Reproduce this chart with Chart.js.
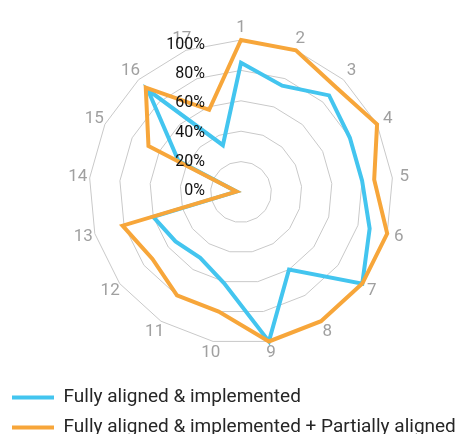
<!DOCTYPE html>
<html lang="en">
<head>
  <meta charset="UTF-8" />
  <title>Alignment radar</title>
  <script src="https://cdn.jsdelivr.net/npm/chart.js"></script>
  <style>
    html, body { margin: 0; padding: 0; background: #ffffff; overflow: hidden; }
    .chart-box { position: relative; width: 456px; height: 447px; }
  </style>
</head>
<body>
  <div class="chart-box">
    <canvas id="radarChart"></canvas>
  </div>

  <script>
    // data
    const categories = ['1', '2', '3', '4', '5', '6', '7', '8', '9', '10', '11', '12', '13', '14', '15', '16', '17'];
    const fullyAligned = [85, 75, 86, 80, 80, 88, 100, 60, 100, 61, 51, 54, 60, 3, 46, 91, 33];
    const fullyPlusPartial = [100, 100, 93, 100, 88, 100, 100, 100, 100, 80, 80, 73, 81, 3, 68, 93, 58];
    const tickValues = [0, 20, 40, 60, 80, 100];
    const tickLabels = ['0%', '20%', '40%', '60%', '80%', '100%'];

    const BLUE = '#43c5ef';
    const ORANGE = '#f7a63a';
    const FONT = 'Roboto';

    // percent labels left of the centre, drawn over the lines
    // category labels centred a bit outside the outer ring
    const labelPlugin = {
      id: 'radarLabels',
      afterLayout(chart) {
        // keep the legend flush left, the layout padding is only for the radar
        if (chart.legend) {
          chart.legend.left = 1;
          chart.legend.right = chart.width;
        }
      },
      afterDatasetsDraw(chart) {
        const scale = chart.scales.r;
        const ctx = chart.ctx;
        const outer = scale.getDistanceFromCenterForValue(100);
        ctx.save();
        ctx.textBaseline = 'middle';

        ctx.font = '17px ' + FONT;
        ctx.fillStyle = '#a0a0a0';
        ctx.textAlign = 'center';
        chart.data.labels.forEach((lbl, i) => {
          const p = scale.getPointPosition(i, outer + 12);
          ctx.fillText(lbl, p.x, p.y);
        });

        ctx.font = '16px ' + FONT;
        ctx.fillStyle = '#111111';
        ctx.textAlign = 'right';
        tickValues.forEach((v, i) => {
          const y = scale.yCenter - scale.getDistanceFromCenterForValue(v) * 0.96 - 1;
          ctx.fillText(tickLabels[i], scale.xCenter - 36, y);
        });
        ctx.restore();
      }
    };

    new Chart(document.getElementById('radarChart'), {
      type: 'radar',
      data: {
        labels: categories,
        datasets: [
          {
            label: 'Fully aligned & implemented',
            data: fullyAligned,
            borderColor: BLUE,
            backgroundColor: BLUE,
            borderWidth: 4,
            fill: false,
            pointRadius: 0,
            borderJoinStyle: 'miter',
            borderCapStyle: 'round',
            order: 1
          },
          {
            label: 'Fully aligned & implemented + Partially aligned',
            data: fullyPlusPartial,
            borderColor: ORANGE,
            backgroundColor: ORANGE,
            borderWidth: 4,
            fill: false,
            pointRadius: 0,
            borderJoinStyle: 'miter',
            borderCapStyle: 'round',
            order: 0
          }
        ]
      },
      options: {
        responsive: true,
        maintainAspectRatio: false,
        animation: false,
        layout: { padding: { left: 89.5, right: 62.5, top: 8.5, bottom: 0 } },
        scales: {
          r: {
            min: 0,
            max: 100,
            ticks: { stepSize: 20, display: false },
            angleLines: { display: false },
            grid: { color: '#c9c9c9', lineWidth: 1 },
            pointLabels: { display: false }
          }
        },
        plugins: {
          tooltip: { enabled: false },
          legend: {
            position: 'bottom',
            align: 'start',
            labels: {
              usePointStyle: true,
              pointStyle: 'line',
              pointStyleWidth: 42,
              color: '#262626',
              font: { family: FONT, size: 19 },
              padding: 11,
              sort: (a, b) => a.datasetIndex - b.datasetIndex
            }
          }
        }
      },
      plugins: [labelPlugin]
    });
  </script>
</body>
</html>
